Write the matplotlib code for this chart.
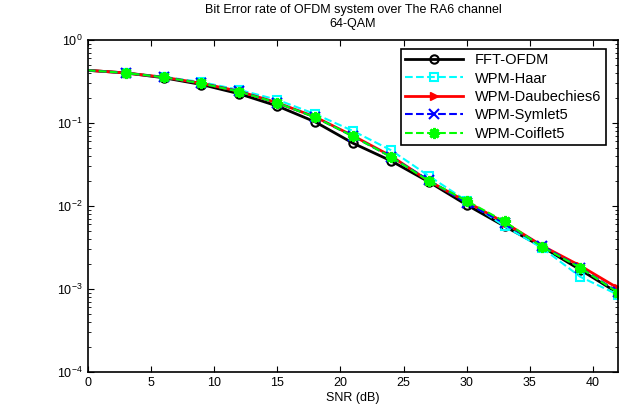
import matplotlib
matplotlib.use('Agg')
import matplotlib.pyplot as plt

# SNR points and BER curves
snr = [0, 3, 6, 9, 12, 15, 18, 21, 24, 27, 30, 33, 36, 39, 42]
ber_fft = [0.43, 0.40, 0.35, 0.29, 0.224, 0.16, 0.103, 0.057, 0.035, 0.0195, 0.0103, 0.0057, 0.0032, 0.0017, 0.00089]
ber_haar = [0.43, 0.40, 0.36, 0.31, 0.25, 0.19, 0.128, 0.080, 0.047, 0.023, 0.0115, 0.0057, 0.0031, 0.0014, 0.00085]
ber_db6 = [0.43, 0.40, 0.355, 0.30, 0.24, 0.175, 0.118, 0.070, 0.040, 0.020, 0.0112, 0.0063, 0.0033, 0.0019, 0.00102]
ber_sym5 = [0.43, 0.40, 0.355, 0.30, 0.24, 0.174, 0.117, 0.069, 0.039, 0.0205, 0.0108, 0.0062, 0.0033, 0.0018, 0.00092]
ber_coif5 = [0.43, 0.40, 0.355, 0.30, 0.238, 0.174, 0.117, 0.069, 0.039, 0.020, 0.0115, 0.0065, 0.0032, 0.0018, 0.0009]

plt.rcParams['font.family'] = ['Liberation Sans', 'DejaVu Sans']
plt.rcParams['font.size'] = 9

f = plt.figure(figsize=(6.27, 4.07), dpi=100)
ax = f.add_axes([0.140, 0.086, 0.846, 0.816])

every = slice(1, None)  # no marker at 0 dB
ax.semilogy(snr, ber_fft, 'k-o', lw=2, ms=6, mfc='none', mew=1.5, markevery=every, label='FFT-OFDM')
ax.semilogy(snr, ber_haar, '--s', color='#00ffff', lw=1.5, ms=6, mfc='none', mew=1.5, markevery=every, label='WPM-Haar')
ax.semilogy(snr, ber_db6, '-', color='red', marker='>', lw=2, ms=6, markevery=every, label='WPM-Daubechies6')
ax.semilogy(snr, ber_sym5, '--x', color='blue', lw=1.5, ms=7, mew=1.5, markevery=every, label='WPM-Symlet5')
ax.semilogy(snr, ber_coif5, '--', color='#00ff00', marker=(8, 2, 0), lw=1.5, ms=8, mew=2,
            markevery=every, label='WPM-Coiflet5')

ax.set_xlim(0, 42)
ax.set_ylim(1e-4, 1)
ax.set_xticks([0, 5, 10, 15, 20, 25, 30, 35, 40])
ax.tick_params(which='both', direction='in', top=True, right=True)
ax.tick_params(which='major', length=4)
ax.tick_params(which='minor', length=2)
for s in ax.spines.values():
    s.set_linewidth(1.2)

ax.set_xlabel('SNR (dB)', labelpad=2)
ax.set_title('Bit Error rate of OFDM system over The RA6 channel\n64-QAM', fontsize=9, pad=9, linespacing=1.3)

leg = ax.legend(loc='upper right', bbox_to_anchor=(0.99, 0.995), fontsize=10.5, fancybox=False,
                edgecolor='black', framealpha=1, handlelength=4.0, borderpad=0.3, labelspacing=0.3)
leg.get_frame().set_linewidth(1.2)

plt.savefig('out.png', dpi=100)
plt.close(f)
